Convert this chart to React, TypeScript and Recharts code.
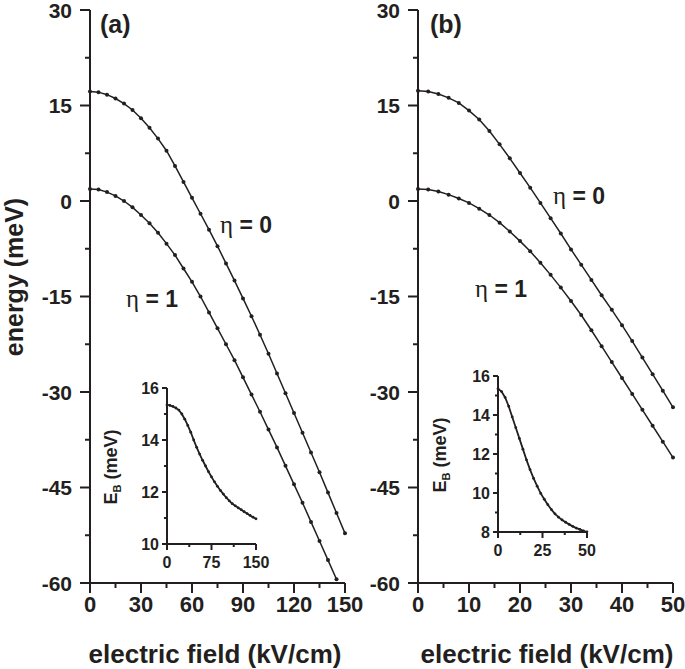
import React from "react";
import { LineChart, Line, XAxis, YAxis } from "recharts";

const INK = "#231f20";
const SANS = "'Liberation Sans', Arial, Helvetica, sans-serif";
const SERIF = "'Liberation Serif', 'Times New Roman', serif";

// panel (a): electric field 0-150 kV/cm
const FIELD_A = [0, 5, 10, 15, 20, 25, 30, 35, 40, 45, 50, 55, 60, 65, 70, 75, 80, 85, 90, 95, 100, 105, 110, 115, 120, 125, 130, 135, 140, 145, 150];
const ETA0_A = [17.2, 17.1, 16.7, 16.1, 15.3, 14.3, 13.0, 11.5, 9.8, 7.9, 5.5, 3.0, 0.5, -2.0, -4.5, -7.1, -9.8, -12.5, -15.3, -18.1, -21.0, -24.0, -27.1, -30.2, -33.3, -36.4, -39.5, -42.6, -45.8, -49.0, -52.2];
const ETA1_A = [1.9, 1.8, 1.4, 0.8, 0.0, -1.0, -2.2, -3.5, -5.0, -6.7, -8.5, -10.6, -12.7, -15.0, -17.5, -20.0, -22.5, -25.0, -27.7, -30.4, -33.1, -35.9, -38.7, -41.6, -44.5, -47.4, -50.4, -53.4, -56.4, -59.4];

// panel (b): electric field 0-50 kV/cm
const FIELD_B = [0, 2, 4, 6, 8, 10, 12, 14, 16, 18, 20, 22, 24, 26, 28, 30, 32, 34, 36, 38, 40, 42, 44, 46, 48, 50];
const ETA0_B = [17.3, 17.2, 16.8, 16.2, 15.4, 14.2, 12.8, 11.0, 8.9, 6.7, 4.4, 2.1, -0.3, -2.7, -5.1, -7.6, -10.0, -12.4, -14.8, -17.1, -19.5, -22.0, -24.6, -27.2, -29.8, -32.4];
const ETA1_B = [1.9, 1.8, 1.5, 1.0, 0.4, -0.3, -1.2, -2.2, -3.4, -4.8, -6.3, -7.9, -9.7, -11.6, -13.6, -15.7, -17.9, -20.3, -22.8, -25.3, -27.8, -30.3, -32.8, -35.3, -37.8, -40.3];

// insets: binding energy E_B
const EB_A = [15.35, 15.33, 15.29, 15.23, 15.15, 15.0, 14.8, 14.56, 14.3, 14.0, 13.72, 13.46, 13.22, 13.0, 12.78, 12.58, 12.39, 12.22, 12.06, 11.92, 11.78, 11.66, 11.55, 11.47, 11.39, 11.32, 11.24, 11.17, 11.1, 11.03, 10.97];
const EB_B = [15.35, 15.2, 14.9, 14.45, 13.9, 13.35, 12.8, 12.25, 11.7, 11.2, 10.75, 10.35, 9.98, 9.68, 9.4, 9.15, 8.93, 8.76, 8.62, 8.5, 8.39, 8.29, 8.2, 8.13, 8.06, 8.0];

// ticks
const Y_TICKS = [30, 22.5, 15, 7.5, 0, -7.5, -15, -22.5, -30, -37.5, -45, -52.5, -60];
const Y_MAJOR = [30, 15, 0, -15, -30, -45, -60];
const X_TICKS_A = [0, 15, 30, 45, 60, 75, 90, 105, 120, 135, 150];
const X_MAJOR_A = [0, 30, 60, 90, 120, 150];
const X_TICKS_B = [0, 5, 10, 15, 20, 25, 30, 35, 40, 45, 50];
const X_MAJOR_B = [0, 10, 20, 30, 40, 50];
const INSET_Y_TICKS_A = [16, 15, 14, 13, 12, 11, 10];
const INSET_Y_TICKS_B = [16, 15, 14, 13, 12, 11, 10, 9, 8];
const INSET_Y_MAJOR = [16, 14, 12, 10, 8];
const INSET_X_TICKS_A = [0, 37.5, 75, 112.5, 150];
const INSET_X_MAJOR_A = [0, 75, 150];
const INSET_X_TICKS_B = [0, 12.5, 25, 37.5, 50];
const INSET_X_MAJOR_B = [0, 25, 50];

const yTick = (major: number[], len: number, minorLen: number, gap: number, fontSize: number) => (props: any) => {
  const { x, y, payload } = props;
  const isMajor = major.includes(payload.value);
  return (
    <g>
      <line x1={x - (isMajor ? len : minorLen)} x2={x} y1={y} y2={y} stroke={INK} strokeWidth={2} />
      {isMajor && (
        <text x={x - len - gap} y={y} dy="0.36em" textAnchor="end" fontFamily={SANS} fontWeight="bold" fontSize={fontSize} fill={INK}>
          {payload.value}
        </text>
      )}
    </g>
  );
};

const xTick = (major: number[], len: number, minorLen: number, baseline: number, fontSize: number) => (props: any) => {
  const { x, y, payload } = props;
  const isMajor = major.includes(payload.value);
  return (
    <g>
      <line x1={x} x2={x} y1={y} y2={y + (isMajor ? len : minorLen)} stroke={INK} strokeWidth={2} />
      {isMajor && (
        <text x={x} y={y + baseline} textAnchor="middle" fontFamily={SANS} fontWeight="bold" fontSize={fontSize} fill={INK}>
          {payload.value}
        </text>
      )}
    </g>
  );
};

const Panel = ({ left, data, xMax, xTicks, xMajor }: any) => (
  <div style={{ position: "absolute", left, top: 0 }}>
    <LineChart width={375} height={669} data={data} margin={{ top: 10, right: 30, bottom: 0, left: 0 }}>
      <XAxis
        dataKey="f"
        type="number"
        domain={[0, xMax]}
        ticks={xTicks}
        interval={0}
        height={86}
        tickSize={0}
        tickMargin={0}
        tickLine={false}
        axisLine={{ stroke: INK, strokeWidth: 2 }}
        tick={xTick(xMajor, 10, 5, 29, 22)}
      />
      <YAxis
        type="number"
        domain={[-60, 30]}
        allowDataOverflow
        ticks={Y_TICKS}
        interval={0}
        width={90}
        tickSize={0}
        tickMargin={0}
        tickLine={false}
        axisLine={{ stroke: INK, strokeWidth: 2 }}
        tick={yTick(Y_MAJOR, 10, 5, 8, 21)}
      />
      <Line dataKey="e0" stroke={INK} strokeWidth={1.5} dot={{ r: 2, fill: INK, stroke: "none" }} activeDot={false} isAnimationActive={false} />
      <Line dataKey="e1" stroke={INK} strokeWidth={1.5} dot={{ r: 2, fill: INK, stroke: "none" }} activeDot={false} isAnimationActive={false} />
    </LineChart>
  </div>
);

const Inset = ({ left, top, data, xMax, yMin, yTicks, xTicks, xMajor }: any) => (
  <div style={{ position: "absolute", left, top }}>
    <LineChart width={165} height={200} data={data} margin={{ top: 10, right: 26, bottom: 0, left: 0 }}>
      <XAxis
        dataKey="f"
        type="number"
        domain={[0, xMax]}
        ticks={xTicks}
        interval={0}
        height={34}
        tickSize={0}
        tickMargin={0}
        tickLine={false}
        axisLine={{ stroke: INK, strokeWidth: 2 }}
        tick={xTick(xMajor, 6, 3, 24, 16)}
      />
      <YAxis
        type="number"
        domain={[yMin, 16]}
        allowDataOverflow
        ticks={yTicks}
        interval={0}
        width={50}
        tickSize={0}
        tickMargin={0}
        tickLine={false}
        axisLine={{ stroke: INK, strokeWidth: 2 }}
        tick={yTick(INSET_Y_MAJOR, 5, 3, 3, 16)}
      />
      <Line dataKey="eb" stroke={INK} strokeWidth={1.8} dot={{ r: 1.4, fill: INK, stroke: "none" }} activeDot={false} isAnimationActive={false} />
    </LineChart>
  </div>
);

const EtaLabel = ({ x, y, n }: { x: number; y: number; n: number }) => (
  <text x={x} y={y} fontSize={23} fill={INK}>
    <tspan fontFamily={SERIF} fontSize={25}>η</tspan>
    <tspan fontFamily={SANS} fontWeight="bold"> = {n}</tspan>
  </text>
);

const EbTitle = ({ x, y }: { x: number; y: number }) => (
  <text transform={`translate(${x}, ${y}) rotate(-90)`} textAnchor="middle" fontFamily={SANS} fontWeight="bold" fontSize={18} fill={INK}>
    <tspan>E</tspan>
    <tspan fontSize={11} dy={4}>B</tspan>
    <tspan dy={-4}> (meV)</tspan>
  </text>
);

export default function App() {
  const tableA = FIELD_A.map((f, i) => ({ f, e0: ETA0_A[i], e1: ETA1_A[i] }));
  const tableB = FIELD_B.map((f, i) => ({ f, e0: ETA0_B[i], e1: ETA1_B[i] }));
  const insetA = FIELD_A.map((f, i) => ({ f, eb: EB_A[i] }));
  const insetB = FIELD_B.map((f, i) => ({ f, eb: EB_B[i] }));

  return (
    <div style={{ position: "absolute", left: 0, top: 0, width: 685, height: 669, background: "#fff", overflow: "hidden" }}>
      <Panel left={0} data={tableA} xMax={150} xTicks={X_TICKS_A} xMajor={X_MAJOR_A} />
      <Panel left={328} data={tableB} xMax={50} xTicks={X_TICKS_B} xMajor={X_MAJOR_B} />
      <Inset left={117} top={378} data={insetA} xMax={150} yMin={10} yTicks={INSET_Y_TICKS_A} xTicks={INSET_X_TICKS_A} xMajor={INSET_X_MAJOR_A} />
      <Inset left={448} top={366} data={insetB} xMax={50} yMin={8} yTicks={INSET_Y_TICKS_B} xTicks={INSET_X_TICKS_B} xMajor={INSET_X_MAJOR_B} />
      <svg width={685} height={669} style={{ position: "absolute", left: 0, top: 0, pointerEvents: "none" }}>
        <text transform="translate(22.5, 277) rotate(-90)" textAnchor="middle" fontFamily={SANS} fontWeight="bold" fontSize={25} fill={INK}>
          energy (meV)
        </text>
        <text x={215} y={663} textAnchor="middle" fontFamily={SANS} fontWeight="bold" fontSize={26} fill={INK}>
          electric field (kV/cm)
        </text>
        <text x={547} y={663} textAnchor="middle" fontFamily={SANS} fontWeight="bold" fontSize={26} fill={INK}>
          electric field (kV/cm)
        </text>
        <text x={100} y={33} fontFamily={SANS} fontWeight="bold" fontSize={25} fill={INK}>(a)</text>
        <text x={430} y={33} fontFamily={SANS} fontWeight="bold" fontSize={25} fill={INK}>(b)</text>
        <EtaLabel x={220} y={233} n={0} />
        <EtaLabel x={126} y={307} n={1} />
        <EtaLabel x={553} y={204} n={0} />
        <EtaLabel x={475} y={297} n={1} />
        <EbTitle x={117} y={467} />
        <EbTitle x={446} y={455} />
      </svg>
    </div>
  );
}
